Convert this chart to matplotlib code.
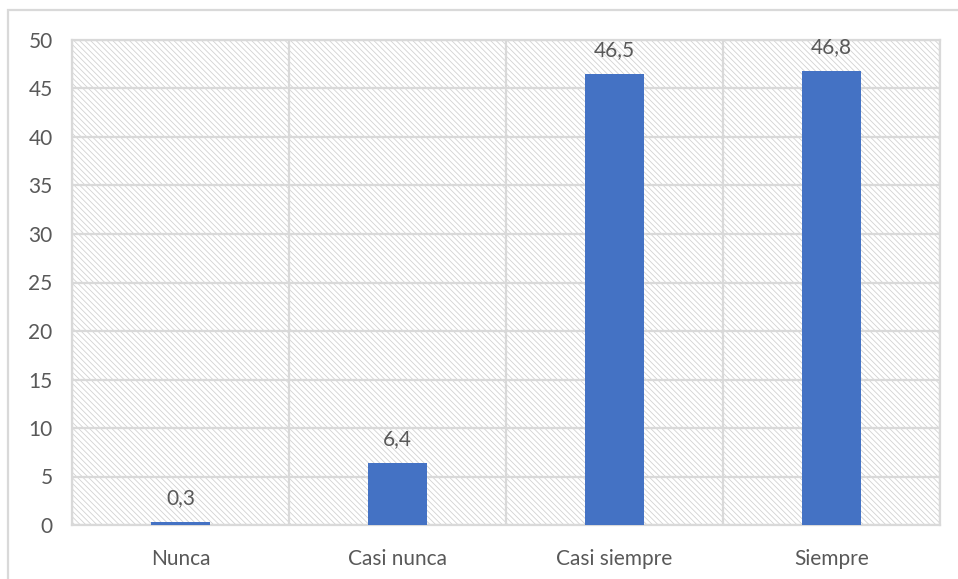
import matplotlib.pyplot as plt
from matplotlib.patches import Rectangle
import numpy as np

# Response categories and percentages
categories = ["Nunca", "Casi nunca", "Casi siempre", "Siempre"]
values = [0.3, 6.4, 46.5, 46.8]
y_ticks = [0, 5, 10, 15, 20, 25, 30, 35, 40, 45, 50]

bar_color = "#4472C4"
grid_color = "#d9d9d9"
text_color = "#595959"

plt.rcParams['font.family'] = ['Lato', 'DejaVu Sans']
plt.rcParams['hatch.linewidth'] = 0.6

fig = plt.figure(figsize=(9.58, 5.79), dpi=100)
ax = fig.add_axes([72/958, 1 - 525/579, 868/958, 485/579])

# outer chart frame
fig.patches.append(Rectangle((8/958, -0.1), 1.2, 1 - 10/579 + 0.1,
                             transform=fig.transFigure, fill=False,
                             edgecolor=grid_color, linewidth=1.6))

x = np.arange(len(categories))

# hatched plot area background
ax.add_patch(Rectangle((0, 0), 1, 1, transform=ax.transAxes,
                       facecolor='none', edgecolor='#d2d2d2', linewidth=0,
                       hatch='\\\\\\\\\\\\', zorder=0))

bars = ax.bar(x, values, width=0.272, color=bar_color, zorder=3)

for b, v in zip(bars, values):
    ax.annotate(f"{v:.1f}".replace('.', ','),
                xy=(b.get_x() + b.get_width()/2, v),
                xytext=(0, 10), textcoords='offset points',
                ha='center', va='bottom', fontsize=15, color=text_color)

ax.set_xlim(-0.5, len(categories) - 0.5)
ax.set_ylim(0, 50)
ax.set_yticks(y_ticks)
ax.set_xticks(x)
ax.set_xticklabels(categories)

# horizontal gridlines and category separators
for t in y_ticks:
    ax.axhline(t, color=grid_color, linewidth=1.6, zorder=1)
for s in np.arange(len(categories) + 1) - 0.5:
    ax.axvline(s, color=grid_color, linewidth=1.6, zorder=1)

for sp in ax.spines.values():
    sp.set_color(grid_color)
    sp.set_linewidth(1.6)

ax.tick_params(axis='both', length=0, labelsize=15, labelcolor=text_color)
ax.tick_params(axis='y', pad=14)
ax.tick_params(axis='x', pad=17)

fig.savefig("out.png", dpi=100)
